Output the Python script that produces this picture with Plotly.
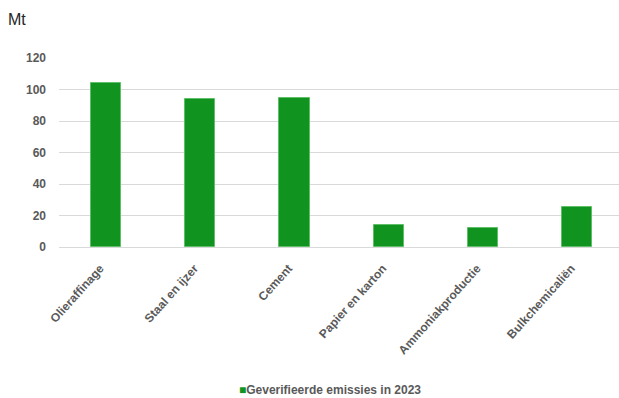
import plotly.graph_objects as go

# Verified industrial emissions per sector (Mt CO2-eq)
sectors = ["Olieraffinage", "Staal en ijzer", "Cement", "Papier en karton",
           "Ammoniakproductie", "Bulkchemicaliën"]
emissions_2023 = [104, 94.2, 94.8, 14.2, 12.1, 25.4]
series_name = "Geverifieerde emissies in 2023"
y_ticks = [0, 20, 40, 60, 80, 100, 120]

GREEN = "#10931f"
TICK_GREY = "#595959"
label_font = dict(family="Liberation Sans Narrow, Arial Narrow, Liberation Sans, Arial",
                  size=12, color=TICK_GREY)

fig = go.Figure()
fig.add_trace(go.Bar(
    x=sectors,
    y=emissions_2023,
    name=series_name,
    width=0.32,
    marker=dict(color=GREEN, line=dict(color="#5fbf68", width=1)),
    showlegend=False,
))

fig.update_layout(
    width=619,
    height=398,
    margin=dict(l=59, r=0, t=58, b=151),
    paper_bgcolor="white",
    plot_bgcolor="white",
    font=label_font,
    bargap=0,
    xaxis=dict(
        type="category",
        range=[-0.5, 5.443],
        tickangle=-48,
        tickvals=sectors,
        ticktext=[f"<b>{s}</b>" for s in sectors],
        tickfont=label_font,
        showgrid=False,
        showline=False,
        zeroline=False,
        ticks="",
        ticklabelstandoff=11,
        ticklabelshift=-6,
        automargin=False,
    ),
    yaxis=dict(
        range=[0, 120],
        tickvals=y_ticks,
        ticktext=[f"<b>{v}</b>" for v in y_ticks],
        tickfont=label_font,
        showgrid=True,
        gridcolor="#d9d9d9",
        gridwidth=1,
        zeroline=True,
        zerolinecolor="#d9d9d9",
        zerolinewidth=1,
        showline=False,
        ticks="",
        ticklabelstandoff=12,
        automargin=False,
    ),
    annotations=[
        dict(
            text="Mt",
            xref="paper", yref="paper",
            x=-0.094, y=1.205,
            xanchor="left", yanchor="middle",
            showarrow=False,
            font=dict(family="Liberation Sans, Arial", size=16, color="#262626"),
        ),
        # series key below the chart
        dict(
            text=(f"<span style='color:{GREEN}'>■</span>"
                  f"<b>{series_name}</b>"),
            xref="paper", yref="paper",
            x=0.484, y=-0.757,
            xanchor="center", yanchor="middle",
            showarrow=False,
            font=label_font,
        ),
    ],
)

fig.write_html("out.html")
